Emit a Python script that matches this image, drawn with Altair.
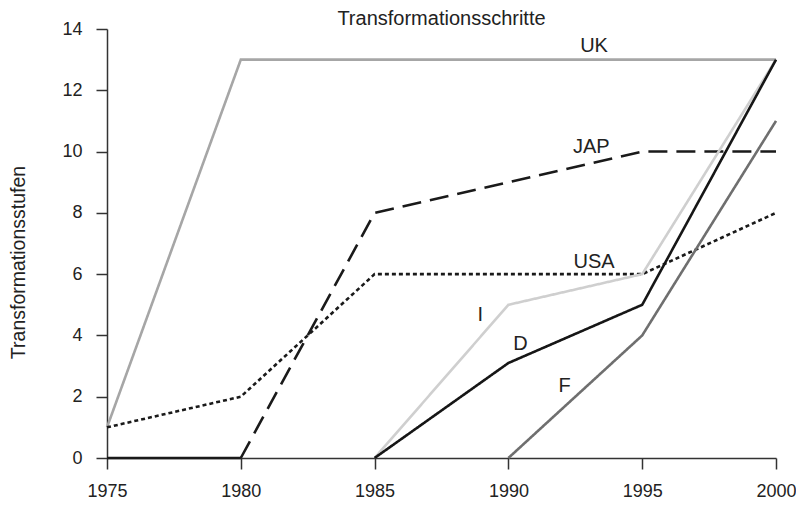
import altair as alt
import pandas as pd

years = [1975, 1980, 1985, 1990, 1995, 2000]
uk = [1, 13, 13, 13, 13, 13]
jap = [None, 0, 8, 9, 10, 10]
jap_pre = [0, 0, None, None, None, None]
usa = [1, 2, 6, 6, 6, 8]
ita = [None, None, 0, 5, 6, 13]
ger = [None, None, 0, 3.1, 5, 13]
fra = [None, None, None, 0, 4, 11]

series = {"UK": uk, "JAP": jap, "JAP0": jap_pre, "USA": usa, "I": ita, "D": ger, "F": fra}
order = ["UK", "USA", "JAP", "JAP0", "I", "F", "D"]
colors = ["#a6a6a6", "#1a1a1a", "#1a1a1a", "#1a1a1a", "#cfcfcf", "#6f6f6f", "#161616"]
dashes = [[1, 0], [4, 3], [19, 9], [1, 0], [1, 0], [1, 0], [1, 0]]

rows = []
for name, vals in series.items():
    for yr, v in zip(years, vals):
        if v is not None:
            rows.append({"Land": name, "Jahr": yr, "Wert": v})
df = pd.DataFrame(rows)

label_text = ["UK", "JAP", "USA", "I", "D", "F"]
label_x = [1993.2, 1993.1, 1993.2, 1988.95, 1990.45, 1992.1]
label_y = [13.45, 10.15, 6.4, 4.67, 3.72, 2.35]
labels = pd.DataFrame({"t": label_text, "x": label_x, "y": label_y})

FONT = "Liberation Sans"

xs = alt.Scale(domain=[1975, 2000], nice=False, zero=False)
ys = alt.Scale(domain=[0, 14], nice=False)

lines = alt.Chart(df).mark_line(strokeWidth=2.6, strokeCap="butt").encode(
    x=alt.X("Jahr:Q", scale=xs, axis=alt.Axis(
        values=[1975, 1980, 1985, 1990, 1995, 2000], format="d", title=None,
        grid=False, tickSize=11, labelPadding=13, labelFontSize=18,
        labelFont=FONT, labelColor="#222", domainColor="#333", tickColor="#333",
        domainWidth=1.5, tickWidth=1.5, labelFlush=False)),
    y=alt.Y("Wert:Q", scale=ys, axis=alt.Axis(
        values=list(range(0, 15, 2)), title="Transformationsstufen",
        grid=False, tickSize=11, labelPadding=14, labelFontSize=18,
        labelFont=FONT, labelColor="#222", domainColor="#333", tickColor="#333",
        domainWidth=1.5, tickWidth=1.5, titleFont=FONT, titleFontSize=19.5,
        titleFontWeight="normal", titleColor="#222", titleX=-89, titleY=233,
        titleAngle=-90, titleBaseline="middle", titleAlign="center")),
    color=alt.Color("Land:N", scale=alt.Scale(domain=order, range=colors), legend=None),
    strokeDash=alt.StrokeDash("Land:N", scale=alt.Scale(domain=order, range=dashes), legend=None),
    detail="Land:N",
)

texts = alt.Chart(labels).mark_text(font=FONT, fontSize=20, color="#222").encode(
    x=alt.X("x:Q", scale=xs),
    y=alt.Y("y:Q", scale=ys),
    text="t:N",
)

chart = alt.layer(lines, texts).properties(
    width=669, height=429,
    title=alt.TitleParams("Transformationsschritte", font=FONT, fontSize=20,
                          fontWeight="normal", color="#222", offset=6, dy=15),
    autosize=alt.AutoSizeParams(type="none"),
    padding={"left": 99, "top": 21, "right": 20, "bottom": 41},
).configure_view(stroke=None)

chart.save("out.html", embed_options={"renderer": "svg", "actions": False})
